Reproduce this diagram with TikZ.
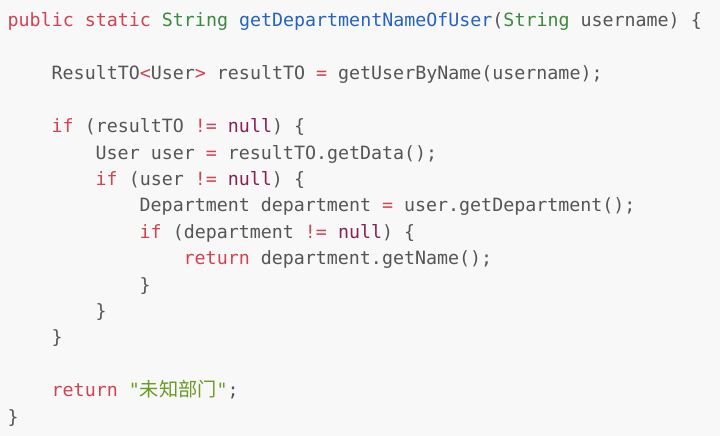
\documentclass[tikz,border=0pt]{standalone}
\usepackage{fontspec}
\setmonofont{DejaVu Sans Mono}
\newfontfamily\cjk{Noto Sans CJK SC}
\usetikzlibrary{positioning}

\definecolor{codebg}{HTML}{F8F8F8}
\definecolor{codetext}{HTML}{555555}
\definecolor{kwred}{HTML}{D0434F}
\definecolor{typegreen}{HTML}{3B8A3E}
\definecolor{fnblue}{HTML}{2462C6}
\definecolor{nullpurple}{HTML}{8C1D57}
\definecolor{strgreen}{HTML}{6A9A22}

\newcommand{\kw}[1]{\textcolor{kwred}{#1}}
\newcommand{\ty}[1]{\textcolor{typegreen}{#1}}
\newcommand{\fn}[1]{\textcolor{fnblue}{#1}}
\newcommand{\nl}[1]{\textcolor{nullpurple}{#1}}
\newcommand{\str}[1]{\textcolor{strgreen}{#1}}

\begin{document}
\begin{tikzpicture}[x=11pt,y=-26.4pt,
  codeline/.style={anchor=base west,inner sep=0pt,text=codetext,
    font=\ttfamily\fontsize{18.3}{22}\selectfont}]
\fill[codebg] (0pt,0pt) rectangle (720pt,-436pt);
\useasboundingbox (0pt,0pt) rectangle (720pt,-436pt);
\begin{scope}[shift={(7.5pt,-27pt)}]
\node[codeline] (sig) at (0,0) {\kw{public} \kw{static} \ty{String} \fn{getDepartmentNameOfUser}(\ty{String} username) \{};
\node[codeline] (decl) at (4,2) {ResultTO\kw{<}User\kw{>} resultTO \kw{=} getUserByName(username);};
\node[codeline] (iftop) at (4,4) {\kw{if} (resultTO \kw{!=} \nl{null}) \{};
\node[codeline] (getuser) at (8,5) {User user \kw{=} resultTO.getData();};
\node[codeline] (ifuser) at (8,6) {\kw{if} (user \kw{!=} \nl{null}) \{};
\node[codeline] (getdept) at (12,7) {Department department \kw{=} user.getDepartment();};
\node[codeline] (ifdept) at (12,8) {\kw{if} (department \kw{!=} \nl{null}) \{};
\node[codeline] (retname) at (16,9) {\kw{return} department.getName();};
\node[codeline] (closedept) at (12,10) {\}};
\node[codeline] (closeuser) at (8,11) {\}};
\node[codeline] (closetop) at (4,12) {\}};
\node[codeline] (retdefault) at (4,14) {\kw{return} \str{"{\cjk\fontsize{19.2}{22}\selectfont 未知部门}"};};
\node[codeline] (closesig) at (0,15) {\}};
\end{scope}
\end{tikzpicture}
\end{document}
